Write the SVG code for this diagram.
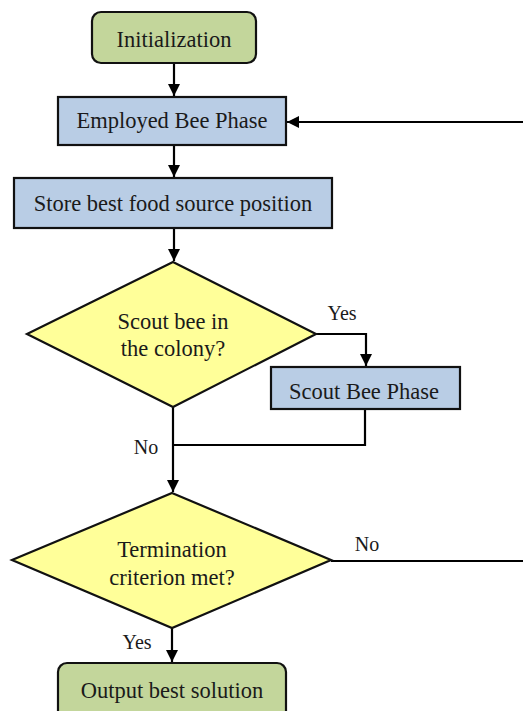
<svg xmlns="http://www.w3.org/2000/svg" width="523" height="711" viewBox="0 0 523 711">
<style>
text{font-family:"Liberation Serif","Times New Roman",serif;fill:#1a1a1a;text-anchor:middle}
.t{font-size:22.5px}
.l{font-size:20px}
.g{fill:#c3d69b;stroke:#111;stroke-width:2.2}
.b{fill:#b9cde5;stroke:#111;stroke-width:2.2}
.y{fill:#ffff99;stroke:#111;stroke-width:2.2}
.c{fill:none;stroke:#000;stroke-width:2.2}
</style>
<defs>
<marker id="ah" viewBox="0 0 10 10" refX="10" refY="5" markerWidth="5.5" markerHeight="5.5" orient="auto" markerUnits="strokeWidth">
<path d="M0,0 L10,5 L0,10 z" fill="#000"/>
</marker>
</defs>
<g id="connectors">
<path class="c" d="M174,63 V96" marker-end="url(#ah)"/>
<path class="c" d="M523,122 H287" marker-end="url(#ah)"/>
<path class="c" d="M174,145 V177" marker-end="url(#ah)"/>
<path class="c" d="M174,228 V261" marker-end="url(#ah)"/>
<path class="c" d="M316,334 H366 V366" marker-end="url(#ah)"/>
<path class="c" d="M365,409 V445 H173"/>
<path class="c" d="M173,407 V492" marker-end="url(#ah)"/>
<path class="c" d="M331,561 H523"/>
<path class="c" d="M172,628 V662" marker-end="url(#ah)"/>
</g>
<g id="init">
<rect class="g" x="92" y="12" width="164" height="51" rx="9"/>
<text class="t" x="174" y="47">Initialization</text>
</g>
<g id="employed">
<rect class="b" x="58" y="97" width="228" height="48"/>
<text class="t" x="172" y="128">Employed Bee Phase</text>
</g>
<g id="store">
<rect class="b" x="14" y="178" width="318" height="50"/>
<text class="t" x="173" y="211">Store best food source position</text>
</g>
<g id="scout-decision">
<polygon class="y" points="173,262 316,334 173,407 27,334"/>
<text class="t" x="173" y="329">Scout bee in</text>
<text class="t" x="173" y="356">the colony?</text>
</g>
<g id="scout">
<rect class="b" x="271" y="367" width="189" height="42"/>
<text class="t" x="364" y="399">Scout Bee Phase</text>
</g>
<g id="termination">
<polygon class="y" points="172,493 331,560 172,628 12,560"/>
<text class="t" x="172" y="557">Termination</text>
<text class="t" x="172" y="585">criterion met?</text>
</g>
<g id="output">
<rect class="g" x="58" y="663" width="228" height="60" rx="9"/>
<text class="t" x="172" y="698">Output best solution</text>
</g>
<g id="labels">
<text class="l" x="342" y="320">Yes</text>
<text class="l" x="146" y="454">No</text>
<text class="l" x="367" y="551">No</text>
<text class="l" x="137" y="649">Yes</text>
</g>
</svg>
